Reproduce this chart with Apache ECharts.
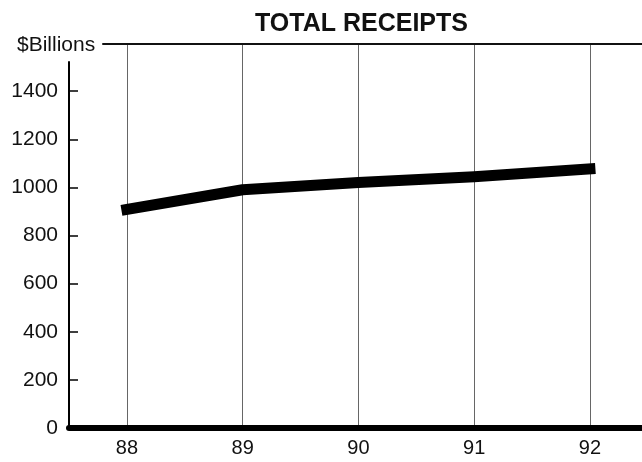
<!DOCTYPE html>
<html>
<head>
<meta charset="utf-8">
<script src="https://cdn.jsdelivr.net/npm/echarts@6/dist/echarts.min.js"></script>
<style>html,body{margin:0;padding:0;background:#fff;}#c{width:642px;height:462px;}</style>
</head>
<body>
<div id="c"></div>
<script>
var years = [88, 89, 90, 91, 92];
var receipts = [908, 990, 1020, 1044, 1077];
var yTicks = [0, 200, 400, 600, 800, 1000, 1200, 1400];
var titleText = 'TOTAL RECEIPTS';
var unitText = '$Billions';

var chart = echarts.init(document.getElementById('c'), null, {renderer: 'canvas'});
var font = 'Liberation Sans, Arial, Helvetica, sans-serif';
var seriesData = years.map(function (y, i) { return [y, receipts[i]]; });
var plain = function (v) { return String(v); };

chart.setOption({
  animation: false,
  backgroundColor: '#fff',
  title: [
    {text: titleText, left: 250, top: 7,
     textStyle: {fontFamily: font, fontWeight: 'bold', fontSize: 25, color: '#111'}},
    {text: unitText, left: 12, top: 30,
     textStyle: {fontFamily: font, fontWeight: 'normal', fontSize: 21, color: '#111'}}
  ],
  grid: [
    {left: 69, right: 0, top: 43, bottom: 34},
    {left: 103, right: 0, top: 43, height: 1},
    {left: 69, width: 1, top: 62, bottom: 34}
  ],
  xAxis: [
    {type: 'value', gridIndex: 0, min: years[0] - 0.5, max: years[years.length - 1] + 0.45,
     axisLine: {show: true, lineStyle: {color: '#000', width: 6}},
     axisTick: {show: false},
     axisLabel: {show: true, customValues: years, margin: 10, formatter: plain,
       fontFamily: font, fontSize: 20, color: '#111'},
     splitLine: {show: true, showMinLine: false, showMaxLine: false,
       lineStyle: {color: '#666', width: 1}}},
    {type: 'value', gridIndex: 1, position: 'top', min: 0, max: 1,
     axisLine: {show: true, lineStyle: {color: '#111', width: 2}},
     axisTick: {show: false}, axisLabel: {show: false}, splitLine: {show: false}},
    {type: 'value', gridIndex: 2, show: false, min: 0, max: 1}
  ],
  yAxis: [
    {type: 'value', gridIndex: 0, min: 0, max: 1600,
     axisLine: {show: false},
     axisTick: {show: true, inside: true, length: 9, customValues: yTicks,
       lineStyle: {color: '#000', width: 1.5}},
     axisLabel: {show: true, customValues: yTicks, margin: 11, formatter: plain,
       fontFamily: font, fontSize: 21, color: '#111'},
     splitLine: {show: false}},
    {type: 'value', gridIndex: 1, show: false, min: 0, max: 1},
    {type: 'value', gridIndex: 2, min: 0, max: 1,
     axisLine: {show: true, onZero: false, lineStyle: {color: '#000', width: 2}},
     axisTick: {show: false}, axisLabel: {show: false}, splitLine: {show: false}}
  ],
  series: [{
    type: 'line', xAxisIndex: 0, yAxisIndex: 0,
    data: seriesData, symbol: 'none', silent: true,
    lineStyle: {color: '#000', width: 11, cap: 'square', join: 'round'}
  }]
});
</script>
</body>
</html>
